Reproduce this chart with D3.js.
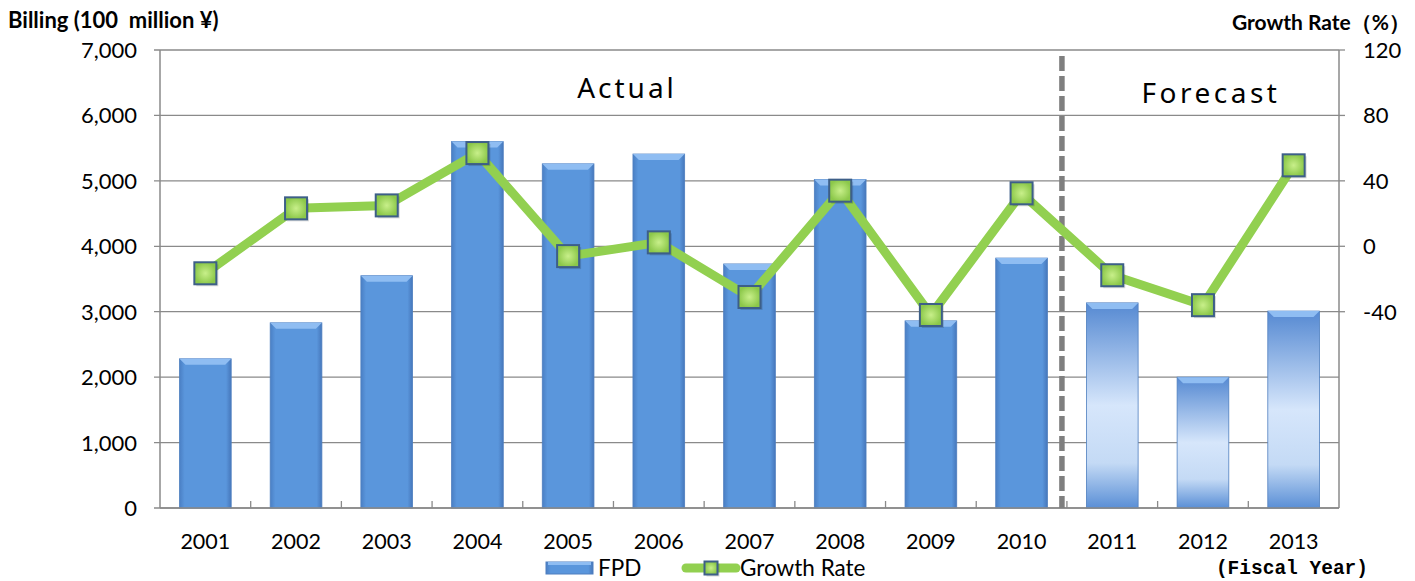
<!DOCTYPE html>
<html>
<head>
<meta charset="utf-8">
<script src="https://cdn.jsdelivr.net/npm/d3@7"></script>
<style>
  body { margin: 0; background: #fff; }
  text { font-family: Lato, "Open Sans", sans-serif; fill: #000; }
</style>
</head>
<body>
<svg width="1415" height="581"></svg>
<script>
// data
var years = ["2001","2002","2003","2004","2005","2006","2007","2008","2009","2010","2011","2012","2013"];
var billing = [2280, 2830, 3550, 5600, 5260, 5410, 3730, 5020, 2860, 3820, 3135, 2000, 3010];
var growth = [-16.5, 23.2, 25, 57, -6, 2.4, -31, 34, -42, 32.4, -17.7, -36, 49.5];
var forecastFrom = "2011";
var leftTicks = [0, 1000, 2000, 3000, 4000, 5000, 6000, 7000];
var rightTicks = [-40, 0, 40, 80, 120];

var svg = d3.select("svg");
var margin = {left: 160, right: 76, top: 50, bottom: 73};
var W = 1415, H = 581;
var plotW = W - margin.left - margin.right;
var plotH = H - margin.top - margin.bottom;

var x = d3.scaleBand().domain(years).range([margin.left, margin.left + plotW]).paddingInner(0.43).paddingOuter(0.215);
var xOuter = d3.scaleBand().domain(years).range([margin.left, margin.left + plotW]);
var y = d3.scaleLinear().domain([0, 7000]).range([margin.top + plotH, margin.top]);
var y2 = d3.scaleLinear().domain([-160, 120]).range([margin.top + plotH, margin.top]);

// gradients
var defs = svg.append("defs");
var gA = defs.append("linearGradient").attr("id", "barA").attr("x1", 0).attr("x2", 1).attr("y1", 0).attr("y2", 0);
gA.append("stop").attr("offset", "0%").attr("stop-color", "#4a7fc4");
gA.append("stop").attr("offset", "10%").attr("stop-color", "#5a96dc");
gA.append("stop").attr("offset", "90%").attr("stop-color", "#5a96dc");
gA.append("stop").attr("offset", "100%").attr("stop-color", "#4677bb");

var gF = defs.append("linearGradient").attr("id", "barF").attr("x1", 0).attr("x2", 0).attr("y1", 0).attr("y2", 1);
gF.append("stop").attr("offset", "0%").attr("stop-color", "#5589d2");
gF.append("stop").attr("offset", "50%").attr("stop-color", "#d6e6fb");
gF.append("stop").attr("offset", "78%").attr("stop-color", "#c4daf5");
gF.append("stop").attr("offset", "100%").attr("stop-color", "#5a8fd6");

var gM = defs.append("radialGradient").attr("id", "mk");
gM.append("stop").attr("offset", "0%").attr("stop-color", "#c8ef8a");
gM.append("stop").attr("offset", "100%").attr("stop-color", "#8cc84a");

// gridlines
svg.append("g").selectAll("line").data(leftTicks).enter().append("line")
  .attr("x1", margin.left - 6).attr("x2", margin.left + plotW)
  .attr("y1", function(d) { return y(d); }).attr("y2", function(d) { return y(d); })
  .attr("stroke", "#8a8a8a").attr("stroke-width", 1.3);

// plot frame sides
svg.append("line").attr("x1", margin.left).attr("x2", margin.left)
  .attr("y1", margin.top).attr("y2", margin.top + plotH).attr("stroke", "#8a8a8a").attr("stroke-width", 1.5);
svg.append("line").attr("x1", margin.left + plotW).attr("x2", margin.left + plotW)
  .attr("y1", margin.top).attr("y2", margin.top + plotH).attr("stroke", "#8a8a8a").attr("stroke-width", 1.5);
svg.append("g").selectAll("line").data(rightTicks).enter().append("line")
  .attr("x1", margin.left + plotW).attr("x2", margin.left + plotW + 6)
  .attr("y1", function(d) { return y2(d); }).attr("y2", function(d) { return y2(d); })
  .attr("stroke", "#8a8a8a").attr("stroke-width", 1.3);

// x ticks between categories
svg.append("g").selectAll("line").data(years.slice(1)).enter().append("line")
  .attr("x1", function(d) { return xOuter(d); }).attr("x2", function(d) { return xOuter(d); })
  .attr("y1", margin.top + plotH).attr("y2", margin.top + plotH - 7)
  .attr("stroke", "#8a8a8a").attr("stroke-width", 1.3);

// bars
var isF = function(d, i) { return years[i] >= forecastFrom; };
var bars = svg.append("g").selectAll("g").data(billing).enter().append("g");
bars.append("rect")
  .attr("x", function(d, i) { return x(years[i]); })
  .attr("y", function(d) { return y(d); })
  .attr("width", x.bandwidth())
  .attr("height", function(d) { return y(0) - y(d); })
  .attr("fill", function(d, i) { return isF(d, i) ? "url(#barF)" : "url(#barA)"; })
  .attr("stroke", "#4f7fbf").attr("stroke-width", 0.8);
// top bevel
bars.append("path")
  .attr("d", function(d, i) {
    var x0 = x(years[i]), x1 = x0 + x.bandwidth(), t = y(d);
    return "M" + x0 + "," + t + "L" + x1 + "," + t + "L" + (x1 - 6) + "," + (t + 6) + "L" + (x0 + 6) + "," + (t + 6) + "Z";
  })
  .attr("fill", "#8fbdf2");

// baseline
svg.append("line").attr("x1", margin.left).attr("x2", margin.left + plotW)
  .attr("y1", y(0)).attr("y2", y(0)).attr("stroke", "#8a8a8a").attr("stroke-width", 1.5);

// forecast divider
var divX = xOuter(forecastFrom) - 5;
svg.append("line").attr("x1", divX).attr("x2", divX)
  .attr("y1", margin.top + 6).attr("y2", margin.top + plotH)
  .attr("stroke", "#7f7f7f").attr("stroke-width", 5.5).attr("stroke-dasharray", "15,5");

// growth line
var line = d3.line()
  .x(function(d, i) { return x(years[i]) + x.bandwidth() / 2; })
  .y(function(d) { return y2(d); });
svg.append("path").datum(growth).attr("d", line)
  .attr("fill", "none").attr("stroke", "#92d050").attr("stroke-width", 9).attr("stroke-linejoin", "round");

function marker(sel, cx, cy, s) {
  sel.append("rect").attr("x", cx - s / 2 + 2).attr("y", cy - s / 2 + 2).attr("width", s).attr("height", s)
    .attr("fill", "#000").attr("opacity", 0.15);
  sel.append("rect").attr("x", cx - s / 2).attr("y", cy - s / 2).attr("width", s).attr("height", s)
    .attr("fill", "url(#mk)").attr("stroke", "#3d5f88").attr("stroke-width", 2);
}
var mg = svg.append("g");
growth.forEach(function(d, i) {
  marker(mg, x(years[i]) + x.bandwidth() / 2, y2(d), 22);
});

// axis labels
svg.append("g").selectAll("text").data(leftTicks).enter().append("text")
  .attr("x", 137).attr("y", function(d) { return y(d) + 8; })
  .attr("text-anchor", "end").style("font-size", "22px")
  .text(d3.format(","));
svg.append("g").selectAll("text").data(rightTicks).enter().append("text")
  .attr("x", 1363).attr("y", function(d) { return y2(d) + 8; })
  .style("font-size", "22px")
  .text(function(d) { return d; });
svg.append("g").selectAll("text").data(years).enter().append("text")
  .attr("x", function(d) { return x(d) + x.bandwidth() / 2; }).attr("y", 549)
  .attr("text-anchor", "middle").style("font-size", "21.5px")
  .text(function(d) { return d; });

// titles
svg.append("text").attr("x", 8).attr("y", 28).style("font-size", "22px").style("font-weight", "bold")
  .attr("xml:space", "preserve").text("Billing (100  million ¥)");
svg.append("text").attr("x", 1410).attr("y", 30).attr("text-anchor", "end").style("font-size", "21px").style("font-weight", "bold")
  .text("Growth Rate（%）");
svg.append("text").attr("x", 627).attr("y", 98).attr("text-anchor", "middle")
  .style("font-size", "28px").style("letter-spacing", "3px").style("font-family", "'Noto Sans', sans-serif")
  .text("Actual");
svg.append("text").attr("x", 1211).attr("y", 103).attr("text-anchor", "middle")
  .style("font-size", "28px").style("letter-spacing", "3.5px").style("font-family", "'Noto Sans', sans-serif")
  .text("Forecast");
svg.append("text").attr("x", 1368).attr("y", 574).attr("text-anchor", "end")
  .style("font-size", "19.5px").style("font-family", "'Liberation Mono', monospace").style("font-weight", "bold")
  .text("(Fiscal Year)");

// legend
var lg = svg.append("g");
lg.append("rect").attr("x", 546).attr("y", 562).attr("width", 47).attr("height", 12).attr("fill", "url(#barA)").attr("stroke", "#4f7fbf");
lg.append("rect").attr("x", 548).attr("y", 562).attr("width", 43).attr("height", 3).attr("fill", "#8fbdf2");
lg.append("text").attr("x", 598).attr("y", 576).style("font-size", "22.5px").text("FPD");
lg.append("line").attr("x1", 686).attr("x2", 736).attr("y1", 568).attr("y2", 568)
  .attr("stroke", "#92d050").attr("stroke-width", 9).attr("stroke-linecap", "round");
marker(lg, 711, 568, 13);
lg.append("text").attr("x", 740).attr("y", 576).style("font-size", "22.5px").text("Growth Rate");
</script>
</body>
</html>
